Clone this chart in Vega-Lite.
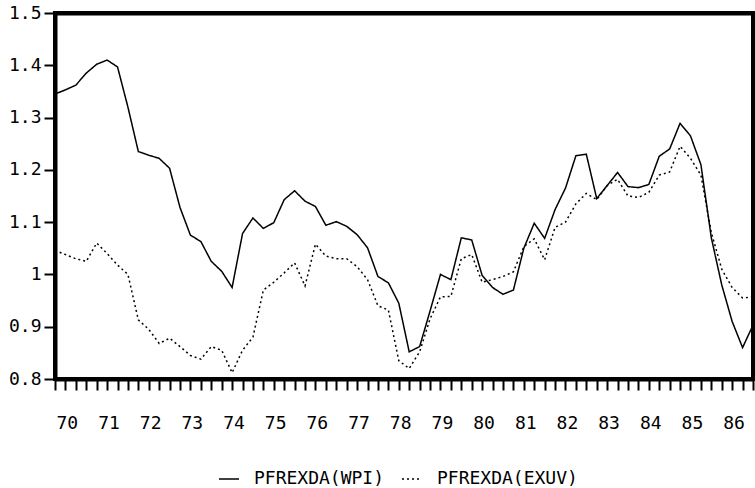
{
  "$schema": "https://vega.github.io/schema/vega-lite/v6.json",
  "width": 698,
  "height": 366,
  "autosize": {"type": "none"},
  "padding": {"left": 55, "top": 13, "right": 2, "bottom": 109},
  "background": "white",
  "config": {
    "view": {"stroke": "black", "strokeWidth": 4},
    "font": "DejaVu Sans Mono"
  },
  "data": {"values": [
    {"t":1970,"WPI":1.345,"EXUV":1.046},
    {"t":1970.25,"WPI":1.353,"EXUV":1.038},
    {"t":1970.5,"WPI":1.362,"EXUV":1.03},
    {"t":1970.75,"WPI":1.385,"EXUV":1.025},
    {"t":1971,"WPI":1.402,"EXUV":1.06},
    {"t":1971.25,"WPI":1.41,"EXUV":1.04},
    {"t":1971.5,"WPI":1.397,"EXUV":1.018},
    {"t":1971.75,"WPI":1.32,"EXUV":1.0},
    {"t":1972,"WPI":1.235,"EXUV":0.913},
    {"t":1972.25,"WPI":1.228,"EXUV":0.895},
    {"t":1972.5,"WPI":1.222,"EXUV":0.868},
    {"t":1972.75,"WPI":1.203,"EXUV":0.878},
    {"t":1973,"WPI":1.128,"EXUV":0.862},
    {"t":1973.25,"WPI":1.075,"EXUV":0.845},
    {"t":1973.5,"WPI":1.063,"EXUV":0.838},
    {"t":1973.75,"WPI":1.025,"EXUV":0.862},
    {"t":1974,"WPI":1.006,"EXUV":0.855},
    {"t":1974.25,"WPI":0.975,"EXUV":0.812},
    {"t":1974.5,"WPI":1.078,"EXUV":0.855},
    {"t":1974.75,"WPI":1.108,"EXUV":0.88},
    {"t":1975,"WPI":1.088,"EXUV":0.97},
    {"t":1975.25,"WPI":1.099,"EXUV":0.985},
    {"t":1975.5,"WPI":1.143,"EXUV":1.003},
    {"t":1975.75,"WPI":1.16,"EXUV":1.022},
    {"t":1976,"WPI":1.14,"EXUV":0.978},
    {"t":1976.25,"WPI":1.13,"EXUV":1.058},
    {"t":1976.5,"WPI":1.094,"EXUV":1.035},
    {"t":1976.75,"WPI":1.101,"EXUV":1.03},
    {"t":1977,"WPI":1.092,"EXUV":1.03},
    {"t":1977.25,"WPI":1.076,"EXUV":1.015},
    {"t":1977.5,"WPI":1.051,"EXUV":0.99},
    {"t":1977.75,"WPI":0.996,"EXUV":0.94},
    {"t":1978,"WPI":0.984,"EXUV":0.932},
    {"t":1978.25,"WPI":0.945,"EXUV":0.835},
    {"t":1978.5,"WPI":0.852,"EXUV":0.82},
    {"t":1978.75,"WPI":0.862,"EXUV":0.852},
    {"t":1979,"WPI":0.93,"EXUV":0.915},
    {"t":1979.25,"WPI":1.0,"EXUV":0.957},
    {"t":1979.5,"WPI":0.99,"EXUV":0.958},
    {"t":1979.75,"WPI":1.07,"EXUV":1.03},
    {"t":1980,"WPI":1.066,"EXUV":1.038},
    {"t":1980.25,"WPI":0.998,"EXUV":0.985},
    {"t":1980.5,"WPI":0.975,"EXUV":0.99},
    {"t":1980.75,"WPI":0.962,"EXUV":0.996},
    {"t":1981,"WPI":0.97,"EXUV":1.005},
    {"t":1981.25,"WPI":1.05,"EXUV":1.053},
    {"t":1981.5,"WPI":1.098,"EXUV":1.068},
    {"t":1981.75,"WPI":1.069,"EXUV":1.028},
    {"t":1982,"WPI":1.124,"EXUV":1.09},
    {"t":1982.25,"WPI":1.165,"EXUV":1.1},
    {"t":1982.5,"WPI":1.227,"EXUV":1.135},
    {"t":1982.75,"WPI":1.23,"EXUV":1.155},
    {"t":1983,"WPI":1.145,"EXUV":1.143},
    {"t":1983.25,"WPI":1.17,"EXUV":1.17},
    {"t":1983.5,"WPI":1.195,"EXUV":1.182},
    {"t":1983.75,"WPI":1.168,"EXUV":1.15},
    {"t":1984,"WPI":1.166,"EXUV":1.147},
    {"t":1984.25,"WPI":1.172,"EXUV":1.157},
    {"t":1984.5,"WPI":1.226,"EXUV":1.19},
    {"t":1984.75,"WPI":1.24,"EXUV":1.196},
    {"t":1985,"WPI":1.289,"EXUV":1.245},
    {"t":1985.25,"WPI":1.265,"EXUV":1.222},
    {"t":1985.5,"WPI":1.21,"EXUV":1.19},
    {"t":1985.75,"WPI":1.07,"EXUV":1.08},
    {"t":1986,"WPI":0.98,"EXUV":1.01},
    {"t":1986.25,"WPI":0.91,"EXUV":0.975},
    {"t":1986.5,"WPI":0.86,"EXUV":0.955},
    {"t":1986.75,"WPI":0.903,"EXUV":0.957}
  ]},
  "transform": [{"fold": ["WPI", "EXUV"], "as": ["series", "value"]}],
  "layer": [
    {
      "mark": {"type": "line", "color": "black", "strokeWidth": 1.5},
      "encoding": {
        "x": {
          "field": "t", "type": "quantitative",
          "scale": {"domain": [1970, 1986.75], "nice": false, "zero": false},
          "axis": {
            "title": null, "grid": false,
            "domain": true, "domainWidth": 4, "domainColor": "black",
            "values": [1970,1970.25,1970.5,1970.75,1971,1971.25,1971.5,1971.75,1972,1972.25,1972.5,1972.75,1973,1973.25,1973.5,1973.75,1974,1974.25,1974.5,1974.75,1975,1975.25,1975.5,1975.75,1976,1976.25,1976.5,1976.75,1977,1977.25,1977.5,1977.75,1978,1978.25,1978.5,1978.75,1979,1979.25,1979.5,1979.75,1980,1980.25,1980.5,1980.75,1981,1981.25,1981.5,1981.75,1982,1982.25,1982.5,1982.75,1983,1983.25,1983.5,1983.75,1984,1984.25,1984.5,1984.75,1985,1985.25,1985.5,1985.75,1986,1986.25,1986.5,1986.75],
            "labelExpr": "datum.value % 1 == 0 ? format(datum.value % 100, '02d') : ''",
            "labelAlign": "left", "labelOffset": 1, "labelBaseline": "top",
            "labelFont": "DejaVu Sans Mono", "labelFontSize": 18, "labelColor": "black",
            "labelPadding": 24, "labelOverlap": false, "labelFlush": false,
            "tickSize": 11, "tickWidth": 2, "tickColor": "black"
          }
        },
        "y": {
          "field": "value", "type": "quantitative",
          "scale": {"domain": [0.8, 1.5], "nice": false, "zero": false},
          "axis": {
            "title": null, "grid": false,
            "domain": true, "domainWidth": 4, "domainColor": "black",
            "values": [0.8, 0.9, 1.0, 1.1, 1.2, 1.3, 1.4, 1.5],
            "labelExpr": "abs(datum.value - 1) < 0.0001 ? '1' : format(datum.value, '.1f')",
            "labelFont": "DejaVu Sans Mono", "labelFontSize": 18, "labelColor": "black",
            "labelPadding": 3, "labelOverlap": false, "labelFlush": false,
            "tickSize": 11, "tickWidth": 2, "tickColor": "black"
          }
        },
        "strokeDash": {
          "field": "series", "type": "nominal",
          "scale": {"domain": ["WPI", "EXUV"], "range": [[1, 0], [2, 3]]},
          "legend": {
            "title": null, "orient": "none", "direction": "horizontal",
            "legendX": 163, "legendY": 455,
            "labelExpr": "'PFREXDA(' + datum.label + ')'",
            "labelFont": "DejaVu Sans Mono", "labelFontSize": 18, "labelColor": "black",
            "symbolType": "stroke", "symbolSize": 400, "symbolStrokeWidth": 1.5,
            "symbolStrokeColor": "black", "labelOffset": 14, "columnPadding": 14
          }
        }
      }
    },
    {
      "mark": {"type": "line", "opacity": 0},
      "encoding": {
        "x": {
          "field": "t", "type": "quantitative",
          "axis": {"orient": "top", "title": null, "grid": false, "labels": false, "ticks": false,
                   "domain": true, "domainWidth": 4, "domainColor": "black"}
        },
        "y": {
          "field": "value", "type": "quantitative",
          "axis": {"orient": "right", "title": null, "grid": false, "labels": false, "ticks": false,
                   "domain": true, "domainWidth": 3, "domainColor": "black"}
        },
        "detail": {"field": "series"}
      }
    }
  ],
  "resolve": {"axis": {"x": "independent", "y": "independent"}}
}
